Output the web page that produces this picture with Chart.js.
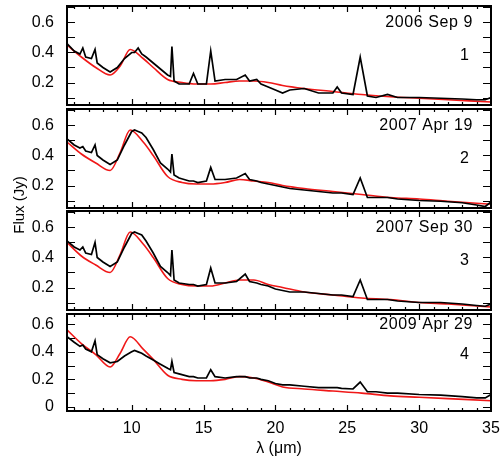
<!DOCTYPE html>
<html>
<head>
<meta charset="utf-8">
<script src="https://cdn.jsdelivr.net/npm/chart.js@4.4.1/dist/chart.umd.min.js"></script>
<style>
    body { margin: 0; background: #fff; }
    #wrap { position: relative; width: 504px; height: 460px; font-family: 'Liberation Sans', Arial, sans-serif; }
    canvas { position: absolute; left: 0; }
    #ylabel { position: absolute; left: -41px; top: 196px; width: 120px; height: 18px; line-height: 18px;
              text-align: center; font-size: 15px; color: #000; transform: rotate(-90deg); }
</style>
</head>
<body>
<div id="wrap">
    <canvas id="c1" width="504" height="105" style="top:3px"></canvas>
    <canvas id="c2" width="504" height="105" style="top:106px"></canvas>
    <canvas id="c3" width="504" height="105" style="top:208px"></canvas>
    <canvas id="c4" width="504" height="149" style="top:311px"></canvas>
    <div id="ylabel">Flux (Jy)</div>
</div>
<script>
'use strict';

// wavelength grid (micron) of the observed spectra
const wave = [5.5, 6.0, 6.4, 6.6, 6.8, 7.2, 7.45, 7.6, 8.0, 8.5, 9.0, 9.5, 10.0, 10.2, 10.45,
    10.7, 11.0, 11.5, 12.0, 12.5, 12.7, 12.8, 12.95, 13.3, 14.0, 14.3, 14.6, 15.2, 15.5, 15.8,
    16.5, 17.3, 17.9, 18.2, 18.7, 19.0, 19.5, 20.0, 20.5, 21.0, 22.0, 23.0, 24.0, 24.3, 24.6,
    25.4, 25.9, 26.4, 27.0, 27.8, 28.5, 30.0, 31.5, 33.0, 34.0, 34.6, 35.0];

const obs2006Sep9 = [0.46, 0.41, 0.39, 0.43, 0.37, 0.36, 0.42, 0.33, 0.30, 0.27, 0.30, 0.36, 0.40, 0.40, 0.43,
    0.39, 0.37, 0.33, 0.29, 0.25, 0.24, 0.44, 0.21, 0.19, 0.19, 0.26, 0.19, 0.19, 0.41, 0.21,
    0.22, 0.22, 0.25, 0.21, 0.22, 0.19, 0.17, 0.15, 0.13, 0.15, 0.16, 0.13, 0.13, 0.17, 0.13,
    0.12, 0.37, 0.11, 0.10, 0.12, 0.10, 0.10, 0.095, 0.09, 0.085, 0.085, 0.10];
const obs2007Apr19 = [0.51, 0.47, 0.45, 0.46, 0.43, 0.42, 0.47, 0.40, 0.37, 0.34, 0.37, 0.47, 0.56, 0.57, 0.56,
    0.55, 0.52, 0.44, 0.35, 0.31, 0.29, 0.41, 0.27, 0.25, 0.23, 0.23, 0.22, 0.23, 0.32, 0.24,
    0.24, 0.25, 0.28, 0.24, 0.23, 0.22, 0.21, 0.20, 0.19, 0.18, 0.17, 0.16, 0.15, 0.15, 0.15,
    0.14, 0.25, 0.12, 0.12, 0.12, 0.11, 0.10, 0.095, 0.085, 0.07, 0.06, 0.09];
const obs2007Sep30 = [0.51, 0.47, 0.45, 0.47, 0.43, 0.42, 0.50, 0.40, 0.37, 0.34, 0.37, 0.47, 0.56, 0.57, 0.56,
    0.55, 0.51, 0.43, 0.34, 0.30, 0.28, 0.45, 0.25, 0.23, 0.22, 0.22, 0.21, 0.22, 0.33, 0.23,
    0.23, 0.24, 0.29, 0.24, 0.23, 0.22, 0.21, 0.19, 0.18, 0.17, 0.17, 0.16, 0.15, 0.15, 0.15,
    0.14, 0.25, 0.12, 0.12, 0.12, 0.11, 0.10, 0.10, 0.09, 0.08, 0.075, 0.09];
const obs2009Apr29 = [0.51, 0.47, 0.44, 0.45, 0.42, 0.40, 0.48, 0.38, 0.35, 0.32, 0.33, 0.37, 0.40, 0.41, 0.40,
    0.39, 0.37, 0.34, 0.31, 0.28, 0.27, 0.33, 0.25, 0.24, 0.22, 0.22, 0.21, 0.21, 0.27, 0.22,
    0.21, 0.22, 0.22, 0.21, 0.21, 0.20, 0.19, 0.17, 0.16, 0.16, 0.15, 0.14, 0.14, 0.14, 0.135,
    0.13, 0.18, 0.11, 0.11, 0.10, 0.10, 0.09, 0.085, 0.075, 0.065, 0.065, 0.09];

// model (red) curves
const modelWave = [5.5, 6.5, 7.5, 8.5, 9.2, 9.9, 10.8, 11.5, 12.5, 13.5, 14.5, 15.5, 16.5, 17.5,
    18.5, 19.5, 20.5, 22, 24, 26, 28, 30, 32, 35];
const mod2006Sep9 = [0.45, 0.37, 0.30, 0.25, 0.31, 0.42, 0.36, 0.30, 0.22, 0.20, 0.19, 0.19, 0.20, 0.21,
    0.21, 0.20, 0.18, 0.16, 0.14, 0.12, 0.105, 0.095, 0.085, 0.07];
const mod2007Apr19 = [0.49, 0.41, 0.35, 0.30, 0.42, 0.57, 0.49, 0.40, 0.26, 0.22, 0.21, 0.21, 0.22, 0.24,
    0.23, 0.22, 0.20, 0.18, 0.16, 0.14, 0.12, 0.11, 0.095, 0.075];
const mod2007Sep30 = [0.50, 0.41, 0.35, 0.30, 0.42, 0.57, 0.49, 0.40, 0.26, 0.22, 0.21, 0.21, 0.23, 0.25,
    0.25, 0.22, 0.20, 0.17, 0.15, 0.13, 0.12, 0.10, 0.09, 0.07];
const mod2009Apr29 = [0.56, 0.46, 0.38, 0.29, 0.39, 0.51, 0.42, 0.345, 0.23, 0.20, 0.19, 0.19, 0.20, 0.22,
    0.21, 0.18, 0.145, 0.13, 0.115, 0.10, 0.08, 0.07, 0.06, 0.045];

const dates = ['2006 Sep 9', '2007 Apr 19', '2007 Sep 30', '2009 Apr 29'];
const panelNumbers = ['1', '2', '3', '4'];
const xTicks = [10, 15, 20, 25, 30, 35];
const yTicks = [0.2, 0.4, 0.6];
const yTicksLast = [0, 0.2, 0.4, 0.6];

const observed = [obs2006Sep9, obs2007Apr19, obs2007Sep30, obs2009Apr29];
const model = [mod2006Sep9, mod2007Apr19, mod2007Sep30, mod2009Apr29];

document.addEventListener('DOMContentLoaded', function() {
    init();
});

function init() {
    for (let i = 0; i < 4; i++) {
        makeChart(i);
    }
}

function pairs(xs, ys) {
    return xs.map(function(x, k) { return {x: x, y: ys[k]}; });
}

// box, inward ticks on all sides and the panel labels
function framePlugin(i) {
    return {
        id: 'frame' + i,
        afterDraw: function(chart) {
            let ctx = chart.ctx;
            let a = chart.chartArea;
            let xs = chart.scales.x;
            let ys = chart.scales.y;
            ctx.save();
            ctx.strokeStyle = '#000';
            ctx.lineWidth = 1.2;
            ctx.beginPath();
            for (let k = 6; k <= 34; k++) {
                let px = Math.round(xs.getPixelForValue(k)) + 0.5;
                let len = k % 5 == 0 ? 6 : 3;
                ctx.moveTo(px, a.bottom); ctx.lineTo(px, a.bottom - len);
                ctx.moveTo(px, a.top); ctx.lineTo(px, a.top + len);
            }
            for (let k = Math.ceil(ys.min * 10); k / 10 <= ys.max; k++) {
                let py = Math.round(ys.getPixelForValue(k / 10)) + 0.5;
                ctx.moveTo(a.left, py); ctx.lineTo(a.left + 8, py);
                ctx.moveTo(a.right, py); ctx.lineTo(a.right - 8, py);
            }
            ctx.stroke();
            ctx.lineWidth = 2;
            ctx.strokeRect(a.left, a.top, a.right - a.left, a.bottom - a.top);

            ctx.fillStyle = '#000';
            ctx.font = '16px "Liberation Sans", Arial, sans-serif';
            ctx.letterSpacing = '0.6px';
            ctx.textAlign = 'right';
            ctx.textBaseline = 'middle';
            let dateY = ys.getPixelForValue(0.6);
            ctx.fillText(dates[i], xs.getPixelForValue(33.75), Math.max(dateY, a.top + 11));
            ctx.fillText(panelNumbers[i], xs.getPixelForValue(33.5), ys.getPixelForValue(0.38));
            ctx.restore();
        }
    };
}

function makeChart(i) {
    let last = i == 3;
    let font = {family: '"Liberation Sans", Arial, sans-serif', size: 16};
    let ctx = document.getElementById('c' + (i + 1)).getContext('2d');
    return new Chart(ctx, {
        type: 'line',
        data: {
            datasets: [{
                data: pairs(wave, observed[i]),
                borderColor: '#000',
                borderWidth: 1.7,
                pointRadius: 0,
                tension: 0
            }, {
                data: pairs(modelWave, model[i]),
                borderColor: '#f01818',
                borderWidth: 1.6,
                pointRadius: 0,
                cubicInterpolationMode: 'monotone'
            }]
        },
        options: {
            responsive: false,
            animation: false,
            events: [],
            layout: {padding: {top: 3, right: 13, bottom: last ? 0 : 3, left: 0}},
            plugins: {legend: {display: false}, tooltip: {enabled: false}},
            scales: {
                x: {
                    type: 'linear',
                    min: 5.5,
                    max: 35,
                    display: last,
                    grid: {display: false},
                    border: {display: false},
                    ticks: {color: '#000', font: font, padding: 0, maxRotation: 0},
                    title: {display: true, text: 'λ (μm)', color: '#000', font: font, padding: {top: 0, bottom: 2}},
                    afterBuildTicks: function(s) {
                        s.ticks = xTicks.map(function(v) { return {value: v}; });
                    },
                    afterFit: function(s) {
                        s.height = last ? 49 : 0;
                        s.paddingLeft = 0;
                        s.paddingRight = 0;
                    }
                },
                y: {
                    min: last ? -0.03 : 0.05,
                    max: last ? 0.675 : 0.71,
                    grid: {display: false},
                    border: {display: false},
                    ticks: {
                        color: '#000', font: font, padding: 5,
                        callback: function(v) { return String(+v.toFixed(1)); }
                    },
                    afterBuildTicks: function(s) {
                        s.ticks = (last ? yTicksLast : yTicks).map(function(v) { return {value: v}; });
                    },
                    afterFit: function(s) {
                        s.width = 67;
                        s.paddingTop = 0;
                        s.paddingBottom = 0;
                    }
                }
            }
        },
        plugins: [framePlugin(i)]
    });
}
</script>
</body>
</html>
